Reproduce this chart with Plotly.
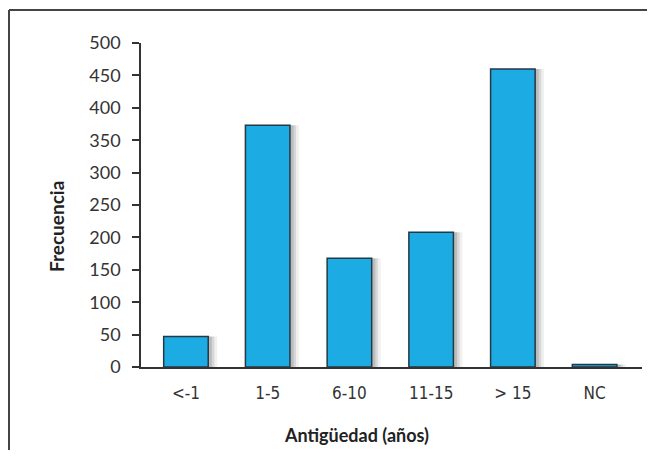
import plotly.graph_objects as go

categories = ["<-1", "1-5", "6-10", "11-15", "> 15", "NC"]
frecuencia = [47, 373, 168, 208, 460, 4]
y_ticks = [0, 50, 100, 150, 200, 250, 300, 350, 400, 450, 500]

# page body has an 8px margin; figure coordinates are page coordinates minus 8
W, H = 647, 442
L, R_EDGE, T, B_EDGE = 133, 634, 35, 359
PW, PH = R_EDGE - L, B_EDGE - T


def px(x):
    return (x - L) / PW


def py(y):
    return (B_EDGE - y) / PH


BAR_W = 0.545
fig = go.Figure()

# soft shadow layers
for dx, alpha in [(0.11, 0.06), (0.075, 0.10), (0.045, 0.12)]:
    fig.add_trace(go.Bar(
        x=categories, y=frecuencia, width=BAR_W, offset=-BAR_W / 2 + dx,
        marker=dict(color=f"rgba(0,0,0,{alpha})", line=dict(width=0)),
        hoverinfo="skip", showlegend=False))

fig.add_trace(go.Bar(
    x=categories, y=frecuencia, width=BAR_W, offset=-BAR_W / 2,
    marker=dict(color="#1CACE3", line=dict(color="#253845", width=1.5)),
    showlegend=False))

fig.update_layout(
    width=W, height=H,
    margin=dict(l=L, r=W - R_EDGE, t=T, b=H - B_EDGE, pad=0),
    paper_bgcolor="white", plot_bgcolor="white",
    barmode="overlay",
    font=dict(family="Lato, sans-serif", color="#333333"),
    xaxis=dict(
        type="category", range=[-0.55, 5.58],
        showline=True, linecolor="#333333", linewidth=1.5,
        ticks="outside", ticklen=10, tickcolor="rgba(0,0,0,0)",
        tickfont=dict(family="DejaVu Sans Condensed, DejaVu Sans", size=17,
                      color="#333333"),
        showgrid=False, zeroline=False,
    ),
    yaxis=dict(
        range=[0, 500], tickvals=y_ticks,
        showline=True, linecolor="#333333", linewidth=1.5,
        ticks="outside", ticklen=7, tickcolor="#333333", tickwidth=1.5,
        tickfont=dict(family="Lato, sans-serif", size=18, color="#333333"),
        ticklabelstandoff=8,
        showgrid=False, zeroline=False,
    ),
    annotations=[
        dict(text="<b>Antigüedad (años)</b>", xref="paper", yref="paper",
             x=px(356 - 8), y=py(435 - 8), xanchor="center", yanchor="middle",
             showarrow=False, font=dict(family="Lato, sans-serif", size=18, color="#222222")),
        dict(text="<b>Frecuencia</b>", xref="paper", yref="paper",
             x=px(56 - 8), y=py(227 - 8), xanchor="center", yanchor="middle",
             textangle=-90, showarrow=False,
             font=dict(family="Lato, sans-serif", size=19, color="#222222")),
    ],
    shapes=[
        dict(type="line", xref="paper", yref="paper",
             x0=px(1), x1=px(1), y0=py(2), y1=py(H),
             line=dict(color="#444444", width=2)),
        dict(type="line", xref="paper", yref="paper",
             x0=px(1), x1=px(W), y0=py(2), y1=py(2),
             line=dict(color="#444444", width=2)),
    ],
)

fig.write_html("out.html")
